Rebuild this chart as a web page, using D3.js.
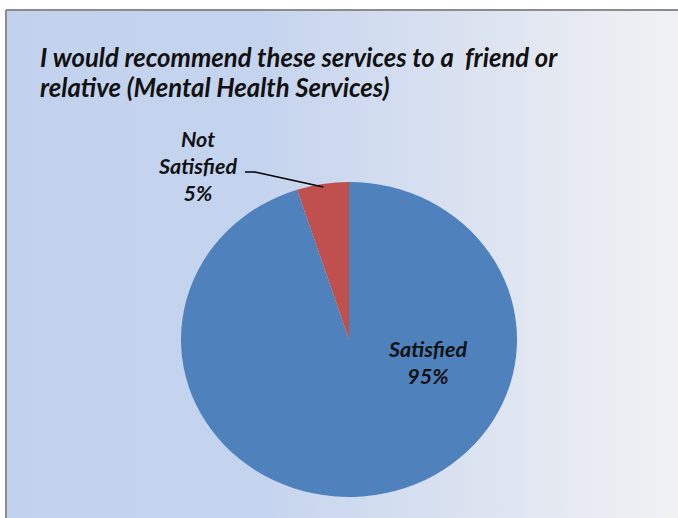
<!DOCTYPE html>
<html>
<head>
<meta charset="utf-8">
<script src="https://cdn.jsdelivr.net/npm/d3@7"></script>
<style>
  body { margin: 0; background: #fff; }
  text { font-family: Lato, "Open Sans", "DejaVu Sans", sans-serif; font-weight: bold; font-style: italic; fill: #111; }
</style>
</head>
<body>
<div id="chart"></div>
<script>
var categories = ['Satisfied', 'Not Satisfied'];
var values = [95, 5];
var colors = ['#4f81bd', '#c0504d'];
var titleLines = ['I would recommend these services to a  friend or', 'relative (Mental Health Services)'];

var width = 678, height = 518;

var svg = d3.select('#chart')
    .append('svg')
    .attr('width', width)
    .attr('height', height);

// background gradient like the excel chart area
var grad = svg.append('defs').append('linearGradient')
    .attr('id', 'bg')
    .attr('x1', '0%').attr('x2', '100%')
    .attr('y1', '0%').attr('y2', '0%');
grad.append('stop').attr('offset', '0%').attr('stop-color', '#c2d2ee');
grad.append('stop').attr('offset', '38%').attr('stop-color', '#c5d4ee');
grad.append('stop').attr('offset', '100%').attr('stop-color', '#f1f1f3');

svg.append('rect')
    .attr('x', 6).attr('y', 10)
    .attr('width', width - 6).attr('height', height - 10)
    .attr('fill', 'url(#bg)');

// frame edges (top and left only show)
svg.append('line')
    .attr('x1', 6).attr('y1', 10).attr('x2', width).attr('y2', 10)
    .attr('stroke', '#8c8c8c').attr('stroke-width', 2);
svg.append('line')
    .attr('x1', 6).attr('y1', 10).attr('x2', 6).attr('y2', height)
    .attr('stroke', '#8c8c8c').attr('stroke-width', 2);

svg.selectAll('.title')
    .data(titleLines)
    .enter().append('text')
    .attr('class', 'title')
    .attr('x', 40)
    .attr('y', function(d, i) { return 67 + i * 30; })
    .style('font-size', '25.7px')
    .style('white-space', 'pre')
    .text(function(d) { return d; });

// pie (slightly squashed vertically as in the picture)
var cx = 349, cy = 339.5, rx = 168, ry = 157.5;
var pie = d3.pie().sort(null).value(function(d) { return d; });
var arc = d3.arc().innerRadius(0).outerRadius(rx);
var arcs = pie(values);

var g = svg.append('g')
    .attr('transform', 'translate(' + cx + ',' + cy + ') scale(1,' + (ry / rx) + ')');

g.selectAll('path')
    .data(arcs)
    .enter().append('path')
    .attr('d', arc)
    .attr('fill', function(d, i) { return colors[i]; });

// labels
var fmt = function(v) { return v + '%'; };

var lab1 = svg.append('text')
    .attr('text-anchor', 'middle')
    .style('font-size', '21.5px');
lab1.append('tspan').attr('x', 428).attr('y', 357).text(categories[0]);
lab1.append('tspan').attr('x', 428).attr('y', 384).text(fmt(values[0]));

var lab2 = svg.append('text')
    .attr('text-anchor', 'middle')
    .style('font-size', '21.5px');
lab2.append('tspan').attr('x', 198).attr('y', 147).text('Not');
lab2.append('tspan').attr('x', 198).attr('y', 174).text('Satisfied');
lab2.append('tspan').attr('x', 198).attr('y', 201).text(fmt(values[1]));

// leader line from label to the red slice
var mid = (arcs[1].startAngle + arcs[1].endAngle) / 2;
var tip = [cx + rx * Math.sin(mid) * 0.98, cy - ry * Math.cos(mid) * 0.98];
svg.append('path')
    .attr('d', d3.line()([[245, 172], [255, 172], tip]))
    .attr('fill', 'none')
    .attr('stroke', '#000')
    .attr('stroke-width', 1.5);
</script>
</body>
</html>
